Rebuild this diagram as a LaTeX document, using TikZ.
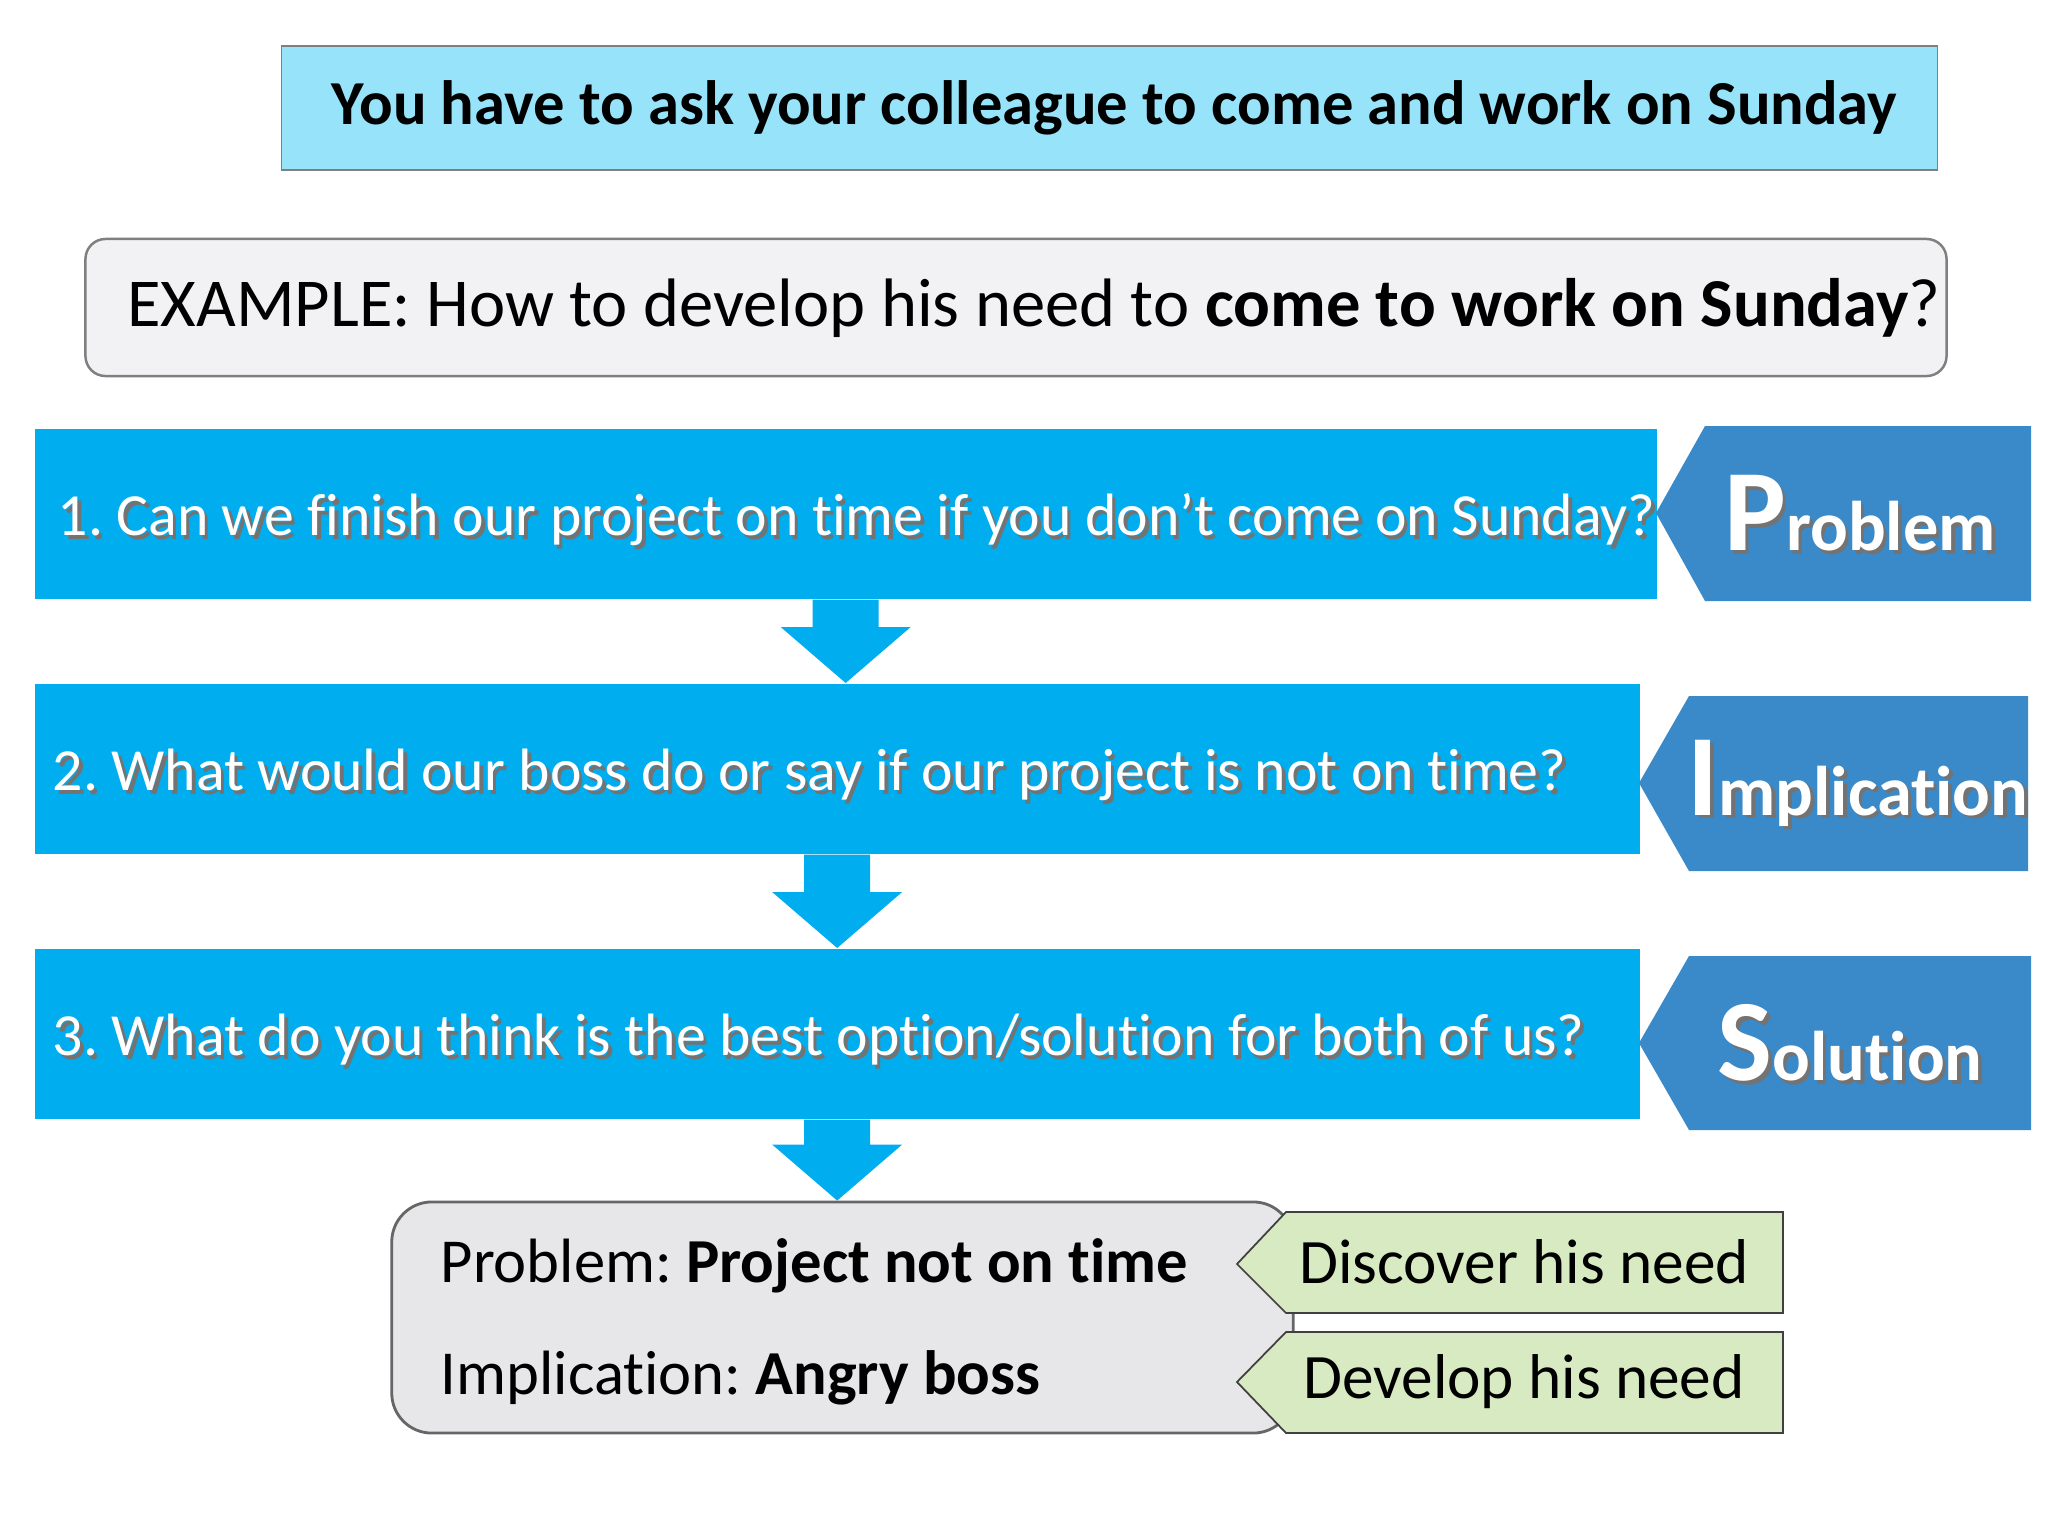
\documentclass[tikz,border=0pt]{standalone}
\usepackage{fontspec}
\setmainfont{Carlito}[Ligatures=NoCommon]
\setsansfont{Carlito}[Ligatures=NoCommon]
\usepackage{xcolor}
\usepackage{tikz}
\usetikzlibrary{positioning,calc}
\frenchspacing

\definecolor{titlecyan}{HTML}{97E3FA}
\definecolor{exgrey}{HTML}{F2F2F4}
\definecolor{barblue}{HTML}{00ADEF}
\definecolor{tagblue}{HTML}{3A89C9}
\definecolor{lowgrey}{HTML}{E7E7EA}
\definecolor{needgreen}{HTML}{D7EAC1}
\definecolor{edgegrey}{HTML}{7F7F7F}

% white text with a soft dark shadow
\newcommand{\shadowed}[1]{\makebox[0pt][l]{\kern1pt\raisebox{-1pt}{\color{black!55}#1}}#1}
% block arrow from the bottom of one bar to the top of the next
\newcommand{\blockarrow}[2]{%
  \fill[barblue] (#1 |- #2) -- ++(-65,-56) -- ++(32,0) -- ($(#1)+(-33,0)$)
    -- ($(#1)+(33,0)$) -- ($(#1 |- #2)+(33,-56)$) -- ++(32,0) -- cycle;}

\begin{document}
\begin{tikzpicture}[x=0.01cm, y=-0.01cm, font=\sffamily,
    titlebox/.style={draw=edgegrey, line width=0.5pt, fill=titlecyan, minimum width=16.55cm, minimum height=1.24cm, font=\sffamily\bfseries\fontsize{17.8}{21}\selectfont},
    exbox/.style={draw=edgegrey, line width=0.7pt, fill=exgrey, rounded corners=0.2cm, inner xsep=0pt, minimum width=18.6cm, minimum height=1.37cm, font=\sffamily\fontsize{19.5}{23}\selectfont},
    bar/.style={fill=barblue, minimum height=1.7cm, anchor=north west},
    bartext/.style={text=white, inner sep=0pt, yshift=-0.08cm, font=\sffamily\fontsize{17}{20}\selectfont},
    tagtext/.style={text=white, inner sep=0pt, font=\sffamily\bfseries\fontsize{20}{24}\selectfont},
    lowbox/.style={draw=black!60, line width=0.8pt, fill=lowgrey, rounded corners=0.4cm, minimum width=9.01cm, minimum height=2.31cm},
    lowtext/.style={inner sep=0pt, anchor=west, font=\sffamily\fontsize{17.8}{21}\selectfont},
    needtag/.style={draw=black!75, line width=0.5pt, fill=needgreen},
    needtext/.style={inner sep=0pt, font=\sffamily\fontsize{18}{21}\selectfont}]
  \useasboundingbox[fill=white] (0,0) rectangle (2048,1536);

  \node[titlebox] (title) at (1109.5,108) {\hspace*{0.1cm}You have to ask your colleague to come and work on Sunday};
  \node[exbox] (example) at (1016,307.5) {\hspace*{0.36cm}EXAMPLE: How to develop his need to \textbf{come to work on Sunday}?};

  % the three questions
  \node[bar, minimum width=16.21cm] (bar1) at (34,428) {};
  \node[bartext, right=0.23cm of bar1.west] (q1) {\shadowed{1. Can we finish our project on time if you don’t come on Sunday?}};
  \node[bar, minimum width=16.04cm] (bar2) at (34,683) {};
  \node[bartext, right=0.18cm of bar2.west] (q2) {\shadowed{2. What would our boss do or say if our project is not on time?}};
  \node[bar, minimum width=16.04cm] (bar3) at (34,948) {};
  \node[bartext, right=0.18cm of bar3.west] (q3) {\shadowed{3. What do you think is the best option/solution for both of us?}};

  % P - I - S tags
  \fill[tagblue] (1656,513) -- (1705,426) -- (2031,426) -- (2031,601) -- (1705,601) -- cycle;
  \node[tagtext] (ptag) at (1860,515) {\shadowed{{\fontsize{33}{33}\selectfont P}roblem}};
  \fill[tagblue] (1639,783) -- (1689,696) -- (2028,696) -- (2028,871) -- (1689,871) -- cycle;
  \node[tagtext] (itag) at (1858,785) {\shadowed{{\fontsize{33}{33}\selectfont I}mplication}};
  \fill[tagblue] (1639,1043) -- (1689,956) -- (2031,956) -- (2031,1130) -- (1689,1130) -- cycle;
  \node[tagtext] (stag) at (1850,1045) {\shadowed{{\fontsize{33}{33}\selectfont S}olution}};

  % summary box
  \node[lowbox] (low) at (842.5,1317.5) {};
  \node[lowtext] (probline) at (440,1266) {Problem: \textbf{Project not on time}};
  \node[lowtext] (implline) at (440,1378) {Implication: \textbf{Angry boss}};

  \blockarrow{bar1.south}{bar2.north}
  \blockarrow{bar2.south}{bar3.north}
  \blockarrow{bar3.south}{low.north}

  % green side tags
  \filldraw[needtag] (1237,1264) -- (1286,1212) -- (1783,1212) -- (1783,1313) -- (1286,1313) -- cycle;
  \node[needtext] (need1) at (1524,1262) {Discover his need};
  \filldraw[needtag] (1237,1382) -- (1286,1332) -- (1783,1332) -- (1783,1433) -- (1286,1433) -- cycle;
  \node[needtext] (need2) at (1524,1382) {Develop his need};
\end{tikzpicture}
\end{document}
